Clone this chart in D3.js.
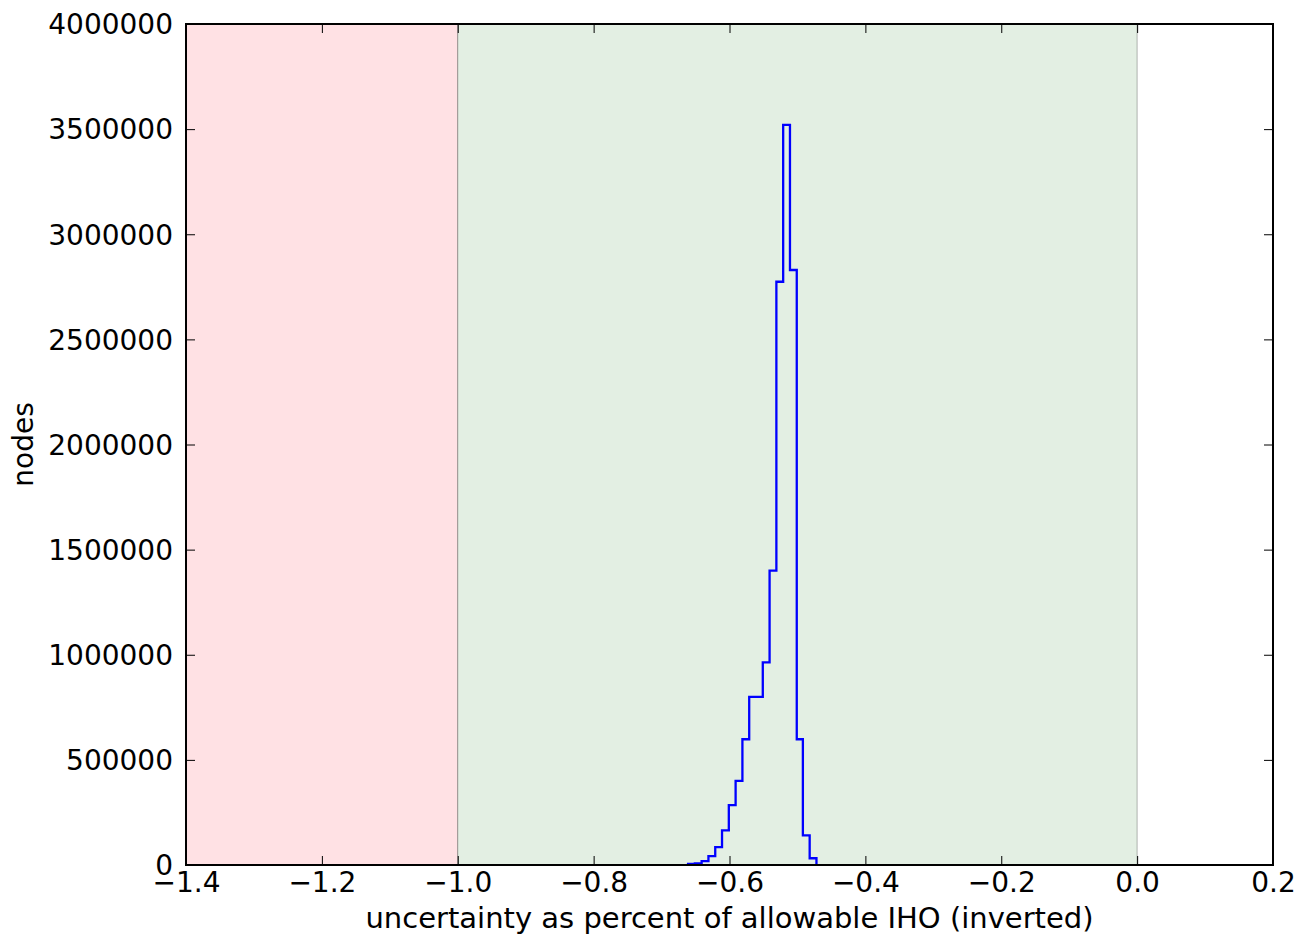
<!DOCTYPE html>
<html>
<head>
<meta charset="utf-8">
<script src="https://cdn.jsdelivr.net/npm/d3@7"></script>
<style>
  html, body { margin: 0; padding: 0; background: #fff; }
  svg { display: block; }
  text { font-family: "DejaVu Sans", sans-serif; fill: #000; }
</style>
</head>
<body>
<svg id="chart" width="1301" height="939"></svg>
<script>
// Histogram bin left edges (uncertainty as fraction of allowable IHO, inverted)
const binEdges = [-0.661, -0.651, -0.641, -0.631, -0.621, -0.611, -0.601, -0.591,
                  -0.581, -0.571, -0.561, -0.551, -0.541, -0.531, -0.521, -0.511,
                  -0.501, -0.492, -0.482, -0.472];
// Node counts per bin
const binCounts = [5000, 8000, 18000, 42000, 85000, 165000, 285000, 400000,
                   598000, 800000, 800000, 964000, 1400000, 2774000, 3520000, 2830000,
                   598000, 141000, 32000];
// Shaded bands: failing (red) and passing (green)
const bands = [
  { from: -1.4, to: -1.0, fill: "#ffe1e4" },
  { from: -1.0, to: 0.0, fill: "#e3efe3" }
];
const xTicks = [-1.4, -1.2, -1.0, -0.8, -0.6, -0.4, -0.2, 0.0, 0.2];
const yTicks = [0, 500000, 1000000, 1500000, 2000000, 2500000, 3000000, 3500000, 4000000];

const margin = { left: 186, top: 24, right: 1301 - 1273, bottom: 939 - 865 };
const W = 1301, H = 939;
const svg = d3.select("#chart");

const x = d3.scaleLinear().domain([-1.4, 0.2]).range([margin.left, W - margin.right]);
const y = d3.scaleLinear().domain([0, 4000000]).range([H - margin.bottom, margin.top]);

// Bands
svg.append("g").selectAll("rect").data(bands).join("rect")
  .attr("x", d => x(d.from)).attr("width", d => x(d.to) - x(d.from))
  .attr("y", y(4000000)).attr("height", y(0) - y(4000000))
  .attr("fill", d => d.fill)
  .attr("stroke", "rgba(0,0,0,0.28)").attr("stroke-width", 1);

// Step outline of the histogram
const pts = [[binEdges[0], 0]];
binCounts.forEach((c, i) => {
  pts.push([binEdges[i], c]);
  pts.push([binEdges[i + 1], c]);
});
pts.push([binEdges[binEdges.length - 1], 0]);
svg.append("path")
  .attr("d", d3.line().x(d => x(d[0])).y(d => y(d[1]))(pts))
  .attr("fill", "none").attr("stroke", "#0000ff").attr("stroke-width", 2.3)
  .attr("stroke-linejoin", "miter");

// Axes (ticks point inward, on all four sides)
const fmtX = d => d3.format(".1f")(d).replace("-", "\u2212");
const fs = "28px";
const xb = svg.append("g").attr("transform", `translate(0,${y(0)})`)
  .call(d3.axisBottom(x).tickValues(xTicks).tickFormat(fmtX).tickSizeInner(-9).tickSizeOuter(0).tickPadding(13));
const xt = svg.append("g").attr("transform", `translate(0,${y(4000000)})`)
  .call(d3.axisTop(x).tickValues(xTicks).tickFormat("").tickSizeInner(-9).tickSizeOuter(0));
const yl = svg.append("g").attr("transform", `translate(${x(-1.4)},0)`)
  .call(d3.axisLeft(y).tickValues(yTicks).tickFormat(d3.format("d")).tickSizeInner(-9).tickSizeOuter(0).tickPadding(13));
const yr = svg.append("g").attr("transform", `translate(${x(0.2)},0)`)
  .call(d3.axisRight(y).tickValues(yTicks).tickFormat("").tickSizeInner(-9).tickSizeOuter(0));
[xb, xt, yl, yr].forEach(g => {
  g.select(".domain").remove();
  g.selectAll(".tick line").attr("stroke", "#000").attr("stroke-width", 1);
  g.selectAll("text").style("font-size", fs).attr("fill", "#000");
});
xb.selectAll("text").attr("dy", "0.5em");
yl.selectAll("text").attr("dy", "0.35em");

// Frame
svg.append("rect")
  .attr("x", x(-1.4)).attr("y", y(4000000))
  .attr("width", x(0.2) - x(-1.4)).attr("height", y(0) - y(4000000))
  .attr("fill", "none").attr("stroke", "#000").attr("stroke-width", 2);

// Axis titles
svg.append("text").attr("x", (x(-1.4) + x(0.2)) / 2).attr("y", 928)
  .attr("text-anchor", "middle").style("font-size", "29px")
  .text("uncertainty as percent of allowable IHO (inverted)");
svg.append("text").attr("transform", `translate(33,${(y(0) + y(4000000)) / 2}) rotate(-90)`)
  .attr("text-anchor", "middle").style("font-size", "28px")
  .text("nodes");
</script>
</body>
</html>
